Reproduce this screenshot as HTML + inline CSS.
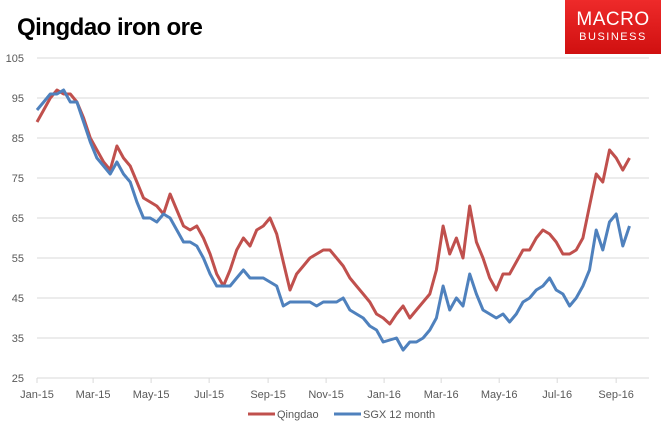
<!DOCTYPE html>
<html><head><meta charset="utf-8">
<style>
body{margin:0;background:#fff;width:661px;height:429px;overflow:hidden;font-family:"Liberation Sans",sans-serif;}
#title{position:absolute;left:17px;top:14px;font-size:24px;font-weight:bold;color:#000;letter-spacing:-0.5px;}
#logo{position:absolute;left:565px;top:0;width:96px;height:54px;background:linear-gradient(#ee2a2a,#d01010);color:#fff;text-align:center;}
#logo .a{font-size:19px;margin-top:9px;letter-spacing:0.5px;}
#logo .b{font-size:11px;letter-spacing:1.5px;}
svg{position:absolute;left:0;top:0;}
</style></head><body>
<div id="title">Qingdao iron ore</div>
<div id="logo"><div class="a">MACRO</div><div class="b">BUSINESS</div></div>
<svg id="chart" width="661" height="429"></svg>
<script>
const xLabels=["Jan-15","Mar-15","May-15","Jul-15","Sep-15","Nov-15","Jan-16","Mar-16","May-16","Jul-16","Sep-16"];
const xLabelDays=[0,59,120,181,243,304,365,425,486,547,609];
const yTicks=[25,35,45,55,65,75,85,95,105];
const qingdao=[89,92,95,97,96,96,94,90,85,82,79,77,83,80,78,74,70,69,68,66,71,67,63,62,63,60,56,51,48,52,57,60,58,62,63,65,61,54,47,51,53,55,56,57,57,55,53,50,48,46,44,41,40,38.5,41,43,40,42,44,46,52,63,56,60,55,68,59,55,50,47,51,51,54,57,57,60,62,61,59,56,56,57,60,68,76,74,82,80,77,80];
const sgx=[92,94,96,96,97,94,94,89,84,80,78,76,79,76,74,69,65,65,64,66,65,62,59,59,58,55,51,48,48,48,50,52,50,50,50,49,48,43,44,44,44,44,43,44,44,44,45,42,41,40,38,37,34,34.5,35,32,34,34,35,37,40,48,42,45,43,51,46,42,41,40,41,39,41,44,45,47,48,50,47,46,43,45,48,52,62,57,64,66,58,63];
const NS='http://www.w3.org/2000/svg';
const svg=document.getElementById('chart');
const X0=37,X1=649,PXD=0.951,Y0=378;
const xDay=d=>X0+d*PXD;
const yVal=v=>Y0-(v-25)*4;
function mk(t,a){const e=document.createElementNS(NS,t);for(const k in a)e.setAttribute(k,a[k]);svg.appendChild(e);return e;}
yTicks.forEach(v=>{
  if(v>25){const g=mk('line',{x1:X0,x2:X1,y1:yVal(v),y2:yVal(v),stroke:'#d9d9d9','stroke-width':1});
  
  }
  const t=mk('text',{x:24,y:yVal(v)+4,'font-size':11,fill:'#595959','text-anchor':'end'});
  t.textContent=v;
  
  
});
const ax=mk('line',{x1:X0,x2:X1,y1:Y0,y2:Y0,stroke:'#d9d9d9','stroke-width':1});


xLabels.forEach((l,i)=>{
  const x=xDay(xLabelDays[i]);
  const tk=mk('line',{x1:x,x2:x,y1:Y0,y2:Y0+5,stroke:'#d9d9d9'});
  
  
  const t=mk('text',{x:x,y:Y0+20,'font-size':11,fill:'#595959','text-anchor':'middle'});
  t.textContent=l;
  
  
});
function series(arr,color,name){
  const pts=arr.map((v,i)=>xDay(i*7).toFixed(1)+','+yVal(v).toFixed(1)).join(' ');
  const p=mk('polyline',{points:pts,fill:'none',stroke:color,'stroke-width':3,'stroke-linejoin':'round'});
  
  
}
series(qingdao,'#c0504d','qingdao-line');
series(sgx,'#4f81bd','sgx-12-month-line');
[['#c0504d','Qingdao',248,'legend-entry-qingdao'],['#4f81bd','SGX 12 month',334,'legend-entry-sgx']].forEach(([c,l,x,n])=>{
  const ln=mk('line',{x1:x,x2:x+27,y1:414,y2:414,stroke:c,'stroke-width':3});
  
  
  const t=mk('text',{x:x+29,y:418,'font-size':11,fill:'#595959'});
  t.textContent=l;
  
  
});
</script>
</body></html>
